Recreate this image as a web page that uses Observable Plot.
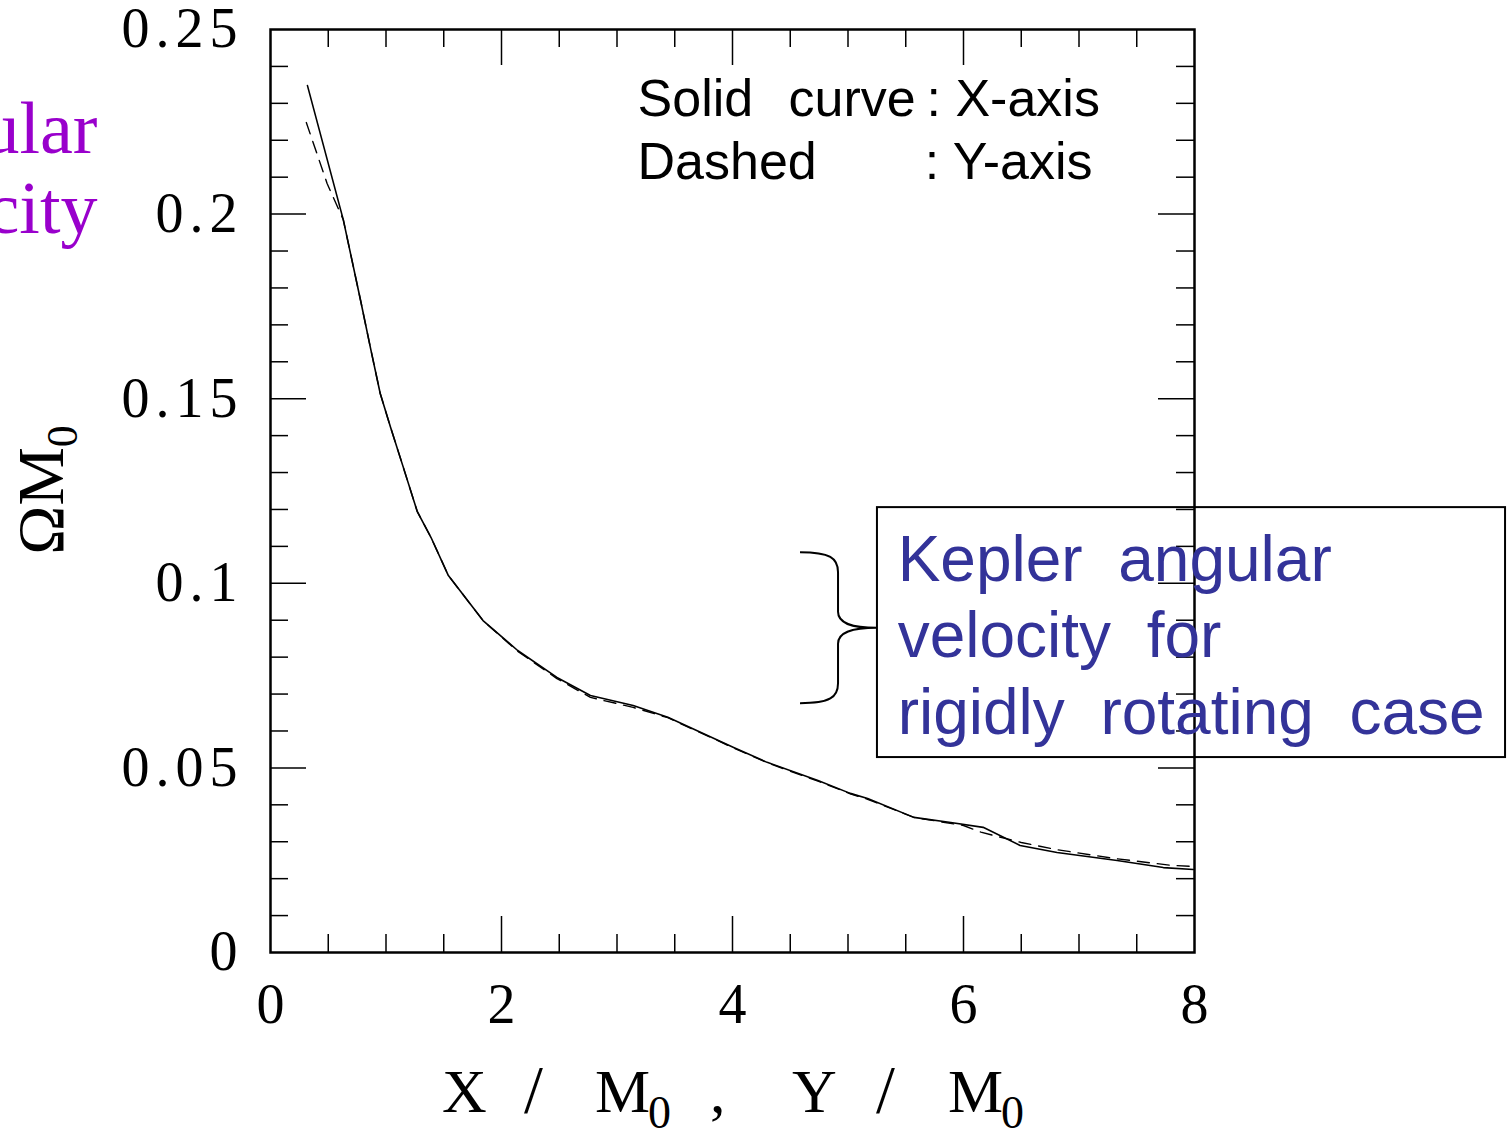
<!DOCTYPE html>
<html><head><meta charset="utf-8">
<script src="https://cdn.jsdelivr.net/npm/d3@7"></script>
<script src="https://cdn.jsdelivr.net/npm/@observablehq/plot@0.6"></script>
<style>
body{margin:0;background:#fff;}
#chart{position:relative;width:1508px;height:1130px;overflow:hidden;background:#fff;}
</style></head><body><div id="chart"></div>
<script>
// Solid curve: along X-axis
const solidX = [0.32, 0.63, 0.78, 0.87, 0.95, 1.04, 1.15, 1.27, 1.39, 1.54, 1.84, 2.14, 2.48, 2.77, 3.14, 3.44, 4.01, 4.30, 4.74, 5.02, 5.17, 5.57, 5.89, 6.17, 6.49, 6.81, 7.33, 7.73, 7.99];
const solidY = [0.2348, 0.1985, 0.1766, 0.1631, 0.1514, 0.1422, 0.1314, 0.1195, 0.1124, 0.1021, 0.0899, 0.0818, 0.0745, 0.0696, 0.0669, 0.0637, 0.0555, 0.0515, 0.0466, 0.0431, 0.0417, 0.0366, 0.0352, 0.0339, 0.0290, 0.0271, 0.0249, 0.0230, 0.0225];
// Dashed curve: along Y-axis
const dashedX = [0.31, 0.49, 0.63, 0.78, 0.87, 0.95, 1.04, 1.15, 1.27, 1.39, 1.54, 1.84, 2.14, 2.48, 2.77, 3.14, 3.44, 4.01, 4.30, 4.74, 5.02, 5.17, 5.57, 6.00, 6.15, 6.50, 6.80, 7.30, 7.80, 8.00];
const dashedY = [0.2248, 0.2083, 0.1985, 0.1766, 0.1631, 0.1514, 0.1422, 0.1314, 0.1195, 0.1124, 0.1021, 0.0899, 0.0816, 0.0742, 0.0691, 0.0664, 0.0636, 0.0554, 0.0514, 0.0464, 0.0430, 0.0415, 0.0366, 0.0344, 0.0326, 0.0298, 0.0279, 0.0255, 0.0236, 0.0233];

const xTickLabels = [0, 2, 4, 6, 8];
const xMajorTicks = [2, 4, 6];
const xMinorTicks = [0.5, 1, 1.5, 2.5, 3, 3.5, 4.5, 5, 5.5, 6.5, 7, 7.5];
const yTickLabels = [0, 0.05, 0.1, 0.15, 0.2, 0.25];
const yMajorTicks = [0.05, 0.1, 0.15, 0.2];
const yMinorTicks = [0.01, 0.02, 0.03, 0.04, 0.06, 0.07, 0.08, 0.09, 0.11, 0.12, 0.13, 0.14, 0.16, 0.17, 0.18, 0.19, 0.21, 0.22, 0.23, 0.24];

const legendLines = ["Solid", "curve", ": X-axis", "Dashed", ": Y-axis"];
const boxText = "Kepler\u00a0\u00a0angular\nvelocity\u00a0\u00a0for\nrigidly\u00a0\u00a0rotating\u00a0\u00a0case";
const sideText = "ular\ncity";

const solid = solidX.map((x, i) => ({x, y: solidY[i]}));
const dashed = dashedX.map((x, i) => ({x, y: dashedY[i]}));

const serif = "'Liberation Serif', 'Times New Roman', serif";
const sans = "'Liberation Sans', Arial, sans-serif";
const MINOR = 18, MAJOR = 36;

const plot = Plot.plot({
  width: 1508, height: 1130,
  marginLeft: 270, marginRight: 314, marginTop: 29, marginBottom: 178,
  x: {domain: [0, 8], axis: null},
  y: {domain: [0, 0.25], axis: null},
  style: {fontFamily: serif, background: "white", overflow: "visible"},
  marks: [
    // ticks inward on all sides
    Plot.ruleX(xMinorTicks, {x: d => d, y1: 0, y2: 0, insetTop: -MINOR, stroke: "black", strokeWidth: 1.5}),
    Plot.ruleX(xMajorTicks, {x: d => d, y1: 0, y2: 0, insetTop: -MAJOR, stroke: "black", strokeWidth: 1.5}),
    Plot.ruleX(xMinorTicks, {x: d => d, y1: 0.25, y2: 0.25, insetBottom: -MINOR, stroke: "black", strokeWidth: 1.5}),
    Plot.ruleX(xMajorTicks, {x: d => d, y1: 0.25, y2: 0.25, insetBottom: -MAJOR, stroke: "black", strokeWidth: 1.5}),
    Plot.ruleY(yMinorTicks, {y: d => d, x1: 0, x2: 0, insetRight: -MINOR, stroke: "black", strokeWidth: 1.5}),
    Plot.ruleY(yMajorTicks, {y: d => d, x1: 0, x2: 0, insetRight: -MAJOR, stroke: "black", strokeWidth: 1.5}),
    Plot.ruleY(yMinorTicks, {y: d => d, x1: 8, x2: 8, insetLeft: -MINOR, stroke: "black", strokeWidth: 1.5}),
    Plot.ruleY(yMajorTicks, {y: d => d, x1: 8, x2: 8, insetLeft: -MAJOR, stroke: "black", strokeWidth: 1.5}),
    Plot.frame({stroke: "black", strokeWidth: 2.5}),
    // curves
    Plot.line(dashed, {x: "x", y: "y", stroke: "black", strokeWidth: 1.4, strokeDasharray: "12,8"}),
    Plot.line(solid, {x: "x", y: "y", stroke: "black", strokeWidth: 1.6}),
    // tick labels
    Plot.text(xTickLabels, {x: d => d, y: 0, text: d => String(d), dy: 70, lineAnchor: "bottom", textAnchor: "middle", fontSize: 56, fontFamily: serif, fill: "black"}),
    Plot.text(yTickLabels, {x: 0, y: d => d, text: d => String(d), dx: -27, lineAnchor: "middle", textAnchor: "end", fontSize: 56, fontFamily: serif, fill: "black"}),
    // legend text
    Plot.text([legendLines[0]], {x: 3.178, y: 0.2267, text: d => d, textAnchor: "start", lineAnchor: "bottom", fontSize: 52, fontFamily: sans, fill: "black"}),
    Plot.text([legendLines[1]], {x: 4.485, y: 0.2267, text: d => d, textAnchor: "start", lineAnchor: "bottom", fontSize: 52, fontFamily: sans, fill: "black"}),
    Plot.text([legendLines[2]], {x: 5.680, y: 0.2267, text: d => d, textAnchor: "start", lineAnchor: "bottom", fontSize: 52, fontFamily: sans, fill: "black"}),
    Plot.text([legendLines[3]], {x: 3.178, y: 0.2096, text: d => d, textAnchor: "start", lineAnchor: "bottom", fontSize: 52, fontFamily: sans, fill: "black"}),
    Plot.text([legendLines[4]], {x: 5.665, y: 0.2096, text: d => d, textAnchor: "start", lineAnchor: "bottom", fontSize: 52, fontFamily: sans, fill: "black"}),
    // annotation box
    Plot.rect([0], {x1: 5.255, x2: 10.693, y1: 0.1205, y2: 0.0528, fill: "none", stroke: "black", strokeWidth: 2}),
    Plot.text([boxText], {x: 5.43, y: 0.0593, text: d => d, textAnchor: "start", lineAnchor: "bottom", lineHeight: 1.19, fontSize: 64, fontFamily: sans, fill: "#333399"}),
    // clipped purple text at left
    Plot.text([sideText], {x: -1.498, y: 0.1950, text: d => d, textAnchor: "end", lineAnchor: "bottom", lineHeight: 1.08, fontSize: 74, fontFamily: serif, fill: "#9900cc"})
  ]
});

document.getElementById("chart").appendChild(plot);
const svg = d3.select(plot);
// widen the spacing of the y tick labels (56px, end-anchored text group)
svg.selectAll("g").filter(function () {
  return this.getAttribute("text-anchor") === "end" && this.getAttribute("font-size") === "56";
}).selectAll("text").style("letter-spacing", "6px");

const xs = plot.scale("x"), ys = plot.scale("y");

// brace
const xa = xs.apply(4.589), xb = xs.apply(4.918), xc = xs.apply(5.255);
const ya = ys.apply(0.1083), ym = ys.apply(0.0878), yb = ys.apply(0.0674);
const p = d3.path();
p.moveTo(xa, ya);
p.bezierCurveTo(xb - 8, ya, xb, ya + 6, xb, ya + 20);
p.lineTo(xb, ym - 16);
p.bezierCurveTo(xb, ym - 5, xb + 12, ym, xc, ym);
p.bezierCurveTo(xb + 12, ym, xb, ym + 5, xb, ym + 16);
p.lineTo(xb, yb - 20);
p.bezierCurveTo(xb, yb - 6, xb - 8, yb, xa, yb);
svg.append("path").attr("d", p.toString()).attr("fill", "none").attr("stroke", "black").attr("stroke-width", 2);

// y-axis label
const yl = svg.append("text")
  .attr("transform", "translate(63,490) rotate(-90)")
  .attr("text-anchor", "middle")
  .attr("font-family", serif).attr("font-size", 66).attr("fill", "black");
yl.append("tspan").text("ΩM");
yl.append("tspan").attr("font-size", 44).attr("dy", 14).text("0");

// x-axis label
const baseY = 1112;
const pieces = [
  {t: "X", x: 442}, {t: "/", x: 524}, {t: "M", x: 595}, {t: "0", x: 648, sub: true},
  {t: ",", x: 710}, {t: "Y", x: 792}, {t: "/", x: 876}, {t: "M", x: 948}, {t: "0", x: 1001, sub: true}
];
const xl = svg.append("text").attr("text-anchor", "start").attr("font-family", serif).attr("font-size", 62).attr("fill", "black");
pieces.forEach(d => {
  xl.append("tspan").attr("x", d.x).attr("y", d.sub ? baseY + 16 : baseY)
    .attr("font-size", d.sub ? 46 : (d.t === "/" ? 68 : 62)).text(d.t);
});
</script>
</body></html>
